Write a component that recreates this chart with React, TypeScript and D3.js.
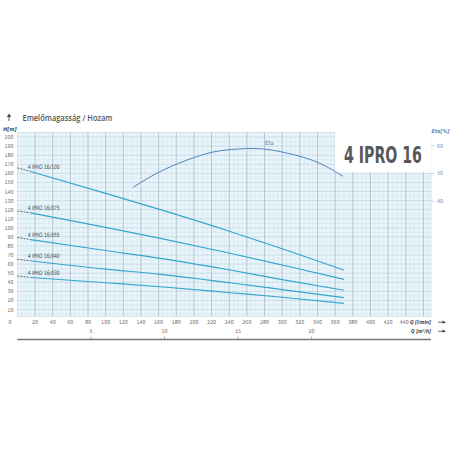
import { useEffect, useRef } from "react"
import * as d3 from "d3"

// flow points in l/min, heads in m
const flow = [0, 15, 100, 162, 241, 300, 370]
const h100 = [166, 162, 138, 120, 96, 77, 53.5]
const h075 = [118.5, 116.5, 100.5, 88.4, 72, 59, 43.3]
const h055 = [89.5, 87, 75, 66.4, 53.5, 43, 31.2]
const h040 = [65.3, 63.7, 54.5, 48.8, 39.5, 32, 23]
const h030 = [47, 45.3, 39.5, 35.1, 28.5, 23.5, 16.8]
const models = ["4 IPRO 16/100", "4 IPRO 16/075", "4 IPRO 16/055", "4 IPRO 16/040", "4 IPRO 16/030"]

const etaFlow = [131, 154, 192, 230, 268, 306, 343, 369]
const etaVals = [45, 49.4, 54.8, 58.2, 59, 57.3, 53.6, 49]

const flowTicks = d3.range(20, 441, 20)
const headTicks = d3.range(10, 201, 10)
const etaTicks = [40, 50, 60]
const m3Ticks = [5, 10, 15, 20]

const condensed = "'Liberation Sans Narrow', 'DejaVu Sans Condensed', 'Arial Narrow', sans-serif"

export default function App() {
  const svgRef = useRef<SVGSVGElement | null>(null)

  useEffect(() => {
    if (!svgRef.current) return
    const svg = d3.select(svgRef.current)
    svg.selectAll("*").remove()

    const x = d3.scaleLinear().domain([0, 468.6]).range([17.4, 431])
    const y = d3.scaleLinear().domain([0, 205]).range([318.6, 132.5])
    const eta = d3.scaleLinear().domain([40, 60]).range([201.2, 145.7])
    const x0 = x(0), x1 = x(468.6)
    const yTop = y(205), yBot = y(2.5)

    svg.append("rect").attr("width", 456).attr("height", 456).attr("fill", "#fff")

    // plot background + grid
    svg.append("rect").attr("x", x0).attr("y", yTop).attr("width", x1 - x0).attr("height", yBot - yTop).attr("fill", "#eaf5fb")

    const grid = svg.append("g")
    d3.range(5, 205.1, 5).forEach((h) => {
      grid.append("line").attr("x1", x0).attr("x2", x1).attr("y1", y(h)).attr("y2", y(h))
        .attr("stroke", h % 10 === 0 ? "#b4cedc" : "#d0e5f0").attr("stroke-width", 0.6)
    })
    d3.range(5, 466, 5).forEach((q) => {
      grid.append("line").attr("x1", x(q)).attr("x2", x(q)).attr("y1", yTop).attr("y2", yBot)
        .attr("stroke", q % 20 === 0 ? "#a3b1ba" : "#cfe3ee").attr("stroke-width", q % 20 === 0 ? 0.7 : 0.5)
    })
    svg.append("rect").attr("x", x0).attr("y", yTop).attr("width", x1 - x0).attr("height", yBot - yTop)
      .attr("fill", "none").attr("stroke", "#c9d6de").attr("stroke-width", 0.6)

    // title box, text squeezed horizontally to the reference width
    svg.append("rect").attr("x", 335).attr("y", yTop - 0.5).attr("width", x1 - 335 + 0.5).attr("height", 173 - yTop)
      .attr("fill", "#fff")
    const title = svg.append("text").attr("x", 0).attr("y", 0).attr("font-family", condensed).attr("font-weight", "bold")
      .attr("font-size", 23).attr("fill", "#585858").text("4 IPRO 16")
    const tw = (title.node() as SVGTextElement).getComputedTextLength() || 78
    title.attr("transform", `translate(344,163) scale(${78 / tw},1)`)

    // axis labels
    const lbl = svg.append("g").attr("font-family", condensed).attr("font-size", 5.3).attr("fill", "#666")
    headTicks.forEach((h) => {
      lbl.append("text").attr("x", 13.5).attr("y", y(h) + 2).attr("text-anchor", "end").text(h)
    })
    lbl.append("text").attr("x", 11.5).attr("y", 324.2).attr("text-anchor", "end").text("0")
    flowTicks.forEach((q) => {
      lbl.append("text").attr("x", x(q) - (q === 440 ? 1.5 : 0)).attr("y", 324.2).attr("text-anchor", "middle").text(q)
    })
    m3Ticks.forEach((m) => {
      lbl.append("text").attr("x", x((m * 1000) / 60)).attr("y", 333.2).attr("text-anchor", "middle").text(m)
    })

    // bottom m3/h axis line
    svg.append("line").attr("x1", x0).attr("x2", x1).attr("y1", 339.5).attr("y2", 339.5).attr("stroke", "#777").attr("stroke-width", 1.3)
    m3Ticks.forEach((m) => {
      svg.append("line").attr("x1", x((m * 1000) / 60)).attr("x2", x((m * 1000) / 60)).attr("y1", 336.5).attr("y2", 339.5)
        .attr("stroke", "#777").attr("stroke-width", 0.6)
    })

    // axis titles
    const it = svg.append("g").attr("font-family", condensed).attr("font-style", "italic").attr("font-weight", "bold").attr("font-size", 5.3).attr("fill", "#444")
    it.append("text").attr("x", 3.3).attr("y", 131).text("H[m]")
    it.append("text").attr("x", 410).attr("y", 324.2).attr("textLength", 21).attr("lengthAdjust", "spacingAndGlyphs").text("Q [l/min]")
    it.append("text").attr("x", 411).attr("y", 333.2).attr("textLength", 20).attr("lengthAdjust", "spacingAndGlyphs").text("Q [m³/h]")
    ;[322.2, 331.2].forEach((ay) => {
      svg.append("line").attr("x1", 438).attr("x2", 444).attr("y1", ay).attr("y2", ay).attr("stroke", "#444").attr("stroke-width", 0.8)
      svg.append("path").attr("d", `M446,${ay}L442.5,${ay - 1.6}L442.5,${ay + 1.6}Z`).attr("fill", "#444")
    })

    // heading
    svg.append("line").attr("x1", 9).attr("x2", 9).attr("y1", 116).attr("y2", 121).attr("stroke", "#444").attr("stroke-width", 0.9)
    svg.append("path").attr("d", "M9,113.5L6.8,117L11.2,117Z").attr("fill", "#444")
    svg.append("text").attr("x", 22.5).attr("y", 120.5).attr("font-family", "'Open Sans', sans-serif").attr("font-size", 8)
      .attr("font-weight", 600).attr("fill", "#555").attr("textLength", 90).attr("lengthAdjust", "spacingAndGlyphs")
      .text("Emelőmagasság / Hozam")

    // eta axis
    const etaG = svg.append("g").attr("font-family", condensed).attr("font-size", 5.3).attr("fill", "#5a8cbf")
    etaTicks.forEach((e) => {
      svg.append("line").attr("x1", x1).attr("x2", x1 + 3).attr("y1", eta(e)).attr("y2", eta(e)).attr("stroke", "#8fb0cf").attr("stroke-width", 0.6)
      etaG.append("text").attr("x", 437).attr("y", eta(e) + 2).text(e)
    })
    etaG.append("text").attr("x", 431.5).attr("y", 132.5).attr("font-style", "italic").attr("font-weight", "bold").text("Eta[%]")

    // eta curve
    const etaLine = d3.line<number>().x((_, i) => x(etaFlow[i])).y((d) => eta(d)).curve(d3.curveMonotoneX)
    svg.append("path").attr("d", etaLine(etaVals)).attr("fill", "none").attr("stroke", "#4f86b8").attr("stroke-width", 1)
    svg.append("text").attr("x", 265).attr("y", 145).attr("font-family", condensed).attr("font-size", 6).attr("fill", "#4f86b8").text("Eta")

    // pump curves
    const series = [h100, h075, h055, h040, h030]
    const line = d3.line<[number, number]>().x((d) => x(d[0])).y((d) => y(d[1])).curve(d3.curveMonotoneX)
    series.forEach((hs, k) => {
      const pts = flow.map((q, i) => [q, hs[i]] as [number, number])
      svg.append("path").attr("d", line(pts.slice(0, 2))).attr("fill", "none").attr("stroke", "#333")
        .attr("stroke-width", 0.8).attr("stroke-dasharray", "1.8,1.3")
      svg.append("path").attr("d", line(pts.slice(1))).attr("fill", "none").attr("stroke", "#33a6cf").attr("stroke-width", 1.2)
      svg.append("text").attr("x", 27.7).attr("y", y(hs[1]) - 2.6).attr("font-family", condensed).attr("font-size", 6)
        .attr("fill", "#444").attr("textLength", 32).attr("lengthAdjust", "spacingAndGlyphs").text(models[k])
    })
  }, [])

  return (
    <svg ref={svgRef} width={456} height={456} style={{ position: "absolute", left: 0, top: 0 }}></svg>
  )
}
